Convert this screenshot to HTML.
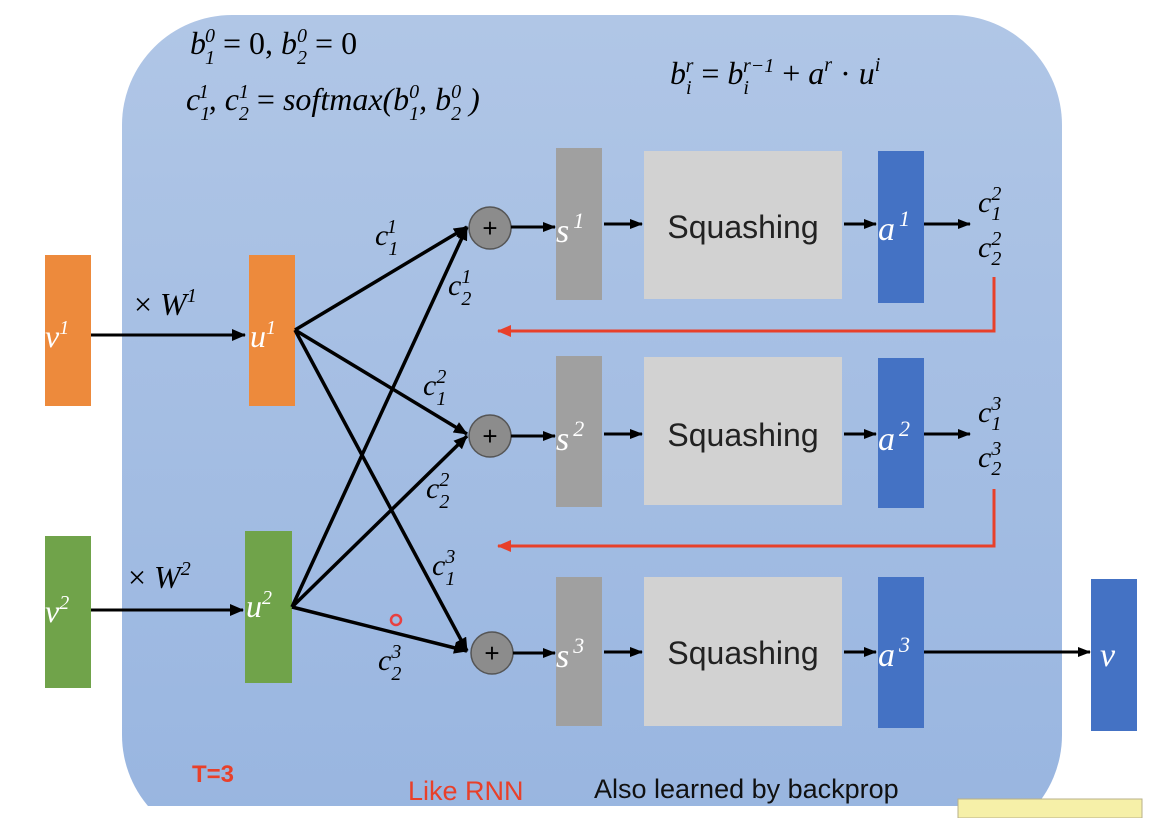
<!DOCTYPE html>
<html><head><meta charset="utf-8"><style>
html,body{margin:0;padding:0;background:#fff;width:1176px;height:818px;overflow:hidden;}
svg{display:block;}
.m{font-family:"Liberation Serif",serif;font-style:italic;}
.w{fill:#fff;}
</style></head><body>
<svg width="1176" height="818" viewBox="0 0 1176 818" xmlns="http://www.w3.org/2000/svg">
<defs>
<linearGradient id="bg" x1="0" y1="0" x2="0" y2="1">
<stop offset="0" stop-color="#b0c6e6"/><stop offset="1" stop-color="#98b5e0"/>
</linearGradient>
<marker id="ar" markerWidth="13" markerHeight="10" refX="12" refY="5" orient="auto" markerUnits="userSpaceOnUse"><path d="M0,0 L13,5 L0,10 z" fill="#000"/></marker>
<marker id="ar2" markerWidth="14" markerHeight="12" refX="13" refY="6" orient="auto" markerUnits="userSpaceOnUse"><path d="M0,0 L14,6 L0,12 z" fill="#000"/></marker>
<marker id="rr" markerWidth="14" markerHeight="12" refX="13" refY="6" orient="auto" markerUnits="userSpaceOnUse"><path d="M0,0 L14,6 L0,12 z" fill="#e8402a"/></marker>
</defs>
<rect x="122" y="15" width="940" height="830" rx="110" ry="110" fill="url(#bg)"/>
<rect x="0" y="806" width="1176" height="12" fill="#fff"/>
<rect x="958" y="799" width="184" height="19" fill="#f6f0a8" stroke="#b8b08a"/>

<!-- formulas -->
<text class="m" x="190" y="54" font-size="32">b<tspan font-size="20" dy="10" dx="-1">1</tspan><tspan font-size="20" dy="-22" dx="-10">0</tspan><tspan dy="12" font-style="normal"> = 0, </tspan>b<tspan font-size="20" dy="10">2</tspan><tspan font-size="20" dy="-22" dx="-10">0</tspan><tspan dy="12" font-style="normal"> = 0</tspan></text>
<text class="m" x="186" y="110" font-size="32">c<tspan font-size="20" dy="10">1</tspan><tspan font-size="20" dy="-22" dx="-10">1</tspan><tspan dy="12">, c</tspan><tspan font-size="20" dy="10">2</tspan><tspan font-size="20" dy="-22" dx="-10">1</tspan><tspan dy="12" font-style="normal"> = </tspan>softmax(b<tspan font-size="20" dy="10">1</tspan><tspan font-size="20" dy="-22" dx="-10">0</tspan><tspan dy="12">, b</tspan><tspan font-size="20" dy="10">2</tspan><tspan font-size="20" dy="-22" dx="-10">0</tspan><tspan dy="12"> )</tspan></text>
<text class="m" x="670" y="84" font-size="32">b<tspan font-size="20" dy="10">i</tspan><tspan font-size="20" dy="-22" dx="-6">r</tspan><tspan dy="12" font-style="normal"> = </tspan>b<tspan font-size="20" dy="10">i</tspan><tspan font-size="20" dy="-22" dx="-6">r−1</tspan><tspan dy="12" font-style="normal"> + </tspan>a<tspan font-size="20" dy="-13">r</tspan><tspan dy="13" font-style="normal"> · </tspan>u<tspan font-size="20" dy="-13">i</tspan></text>

<!-- left boxes -->
<rect x="45" y="255" width="46" height="151" fill="#ed8a3c"/>
<rect x="249" y="255" width="46" height="151" fill="#ed8a3c"/>
<rect x="45" y="536" width="46" height="152" fill="#70a34a"/>
<rect x="245" y="531" width="47" height="152" fill="#70a34a"/>
<text class="m w" x="45" y="347" font-size="32">v<tspan font-size="20" dy="-13">1</tspan></text>
<text class="m w" x="250" y="347" font-size="32">u<tspan font-size="20" dy="-13">1</tspan></text>
<text class="m w" x="45" y="622" font-size="32">v<tspan font-size="20" dy="-13">2</tspan></text>
<text class="m w" x="246" y="617" font-size="32">u<tspan font-size="20" dy="-13">2</tspan></text>
<line x1="91" y1="335" x2="245" y2="335" stroke="#000" stroke-width="3" marker-end="url(#ar2)"/>
<line x1="91" y1="610" x2="243" y2="610" stroke="#000" stroke-width="3" marker-end="url(#ar2)"/>
<text class="m" x="134" y="315" font-size="32"><tspan font-style="normal">× </tspan>W<tspan font-size="20" dy="-13">1</tspan></text>
<text class="m" x="128" y="588" font-size="32"><tspan font-style="normal">× </tspan>W<tspan font-size="20" dy="-13">2</tspan></text>

<!-- cross lines -->
<g stroke="#000" stroke-width="3.5" marker-end="url(#ar2)">
<line x1="295" y1="330" x2="467" y2="227"/>
<line x1="295" y1="330" x2="467" y2="434"/>
<line x1="295" y1="330" x2="467" y2="651"/>
<line x1="292" y1="607" x2="467" y2="227"/>
<line x1="292" y1="607" x2="467" y2="436"/>
<line x1="292" y1="607" x2="467" y2="651"/>
</g>
<text class="m" x="375" y="245" font-size="30">c<tspan font-size="20" dy="10">1</tspan><tspan font-size="20" dy="-22" dx="-10">1</tspan></text>
<text class="m" x="448" y="295" font-size="30">c<tspan font-size="20" dy="10">2</tspan><tspan font-size="20" dy="-22" dx="-10">1</tspan></text>
<text class="m" x="423" y="395" font-size="30">c<tspan font-size="20" dy="10">1</tspan><tspan font-size="20" dy="-22" dx="-10">2</tspan></text>
<text class="m" x="426" y="498" font-size="30">c<tspan font-size="20" dy="10">2</tspan><tspan font-size="20" dy="-22" dx="-10">2</tspan></text>
<text class="m" x="432" y="575" font-size="30">c<tspan font-size="20" dy="10">1</tspan><tspan font-size="20" dy="-22" dx="-10">3</tspan></text>
<text class="m" x="378" y="670" font-size="30">c<tspan font-size="20" dy="10">2</tspan><tspan font-size="20" dy="-22" dx="-10">3</tspan></text>
<circle cx="396" cy="620" r="5" fill="none" stroke="#e84040" stroke-width="2.5"/>

<!-- rows -->
<g font-family="Liberation Sans, sans-serif">
<circle cx="490" cy="228" r="21" fill="#8c8c8c" stroke="#555" stroke-width="1.5"/>
<circle cx="490" cy="436" r="21" fill="#8c8c8c" stroke="#555" stroke-width="1.5"/>
<circle cx="492" cy="653" r="21" fill="#8c8c8c" stroke="#555" stroke-width="1.5"/>
<text x="490" y="237" font-size="26" text-anchor="middle">+</text>
<text x="490" y="445" font-size="26" text-anchor="middle">+</text>
<text x="492" y="662" font-size="26" text-anchor="middle">+</text>
</g>
<rect x="556" y="148" width="46" height="152" fill="#a0a0a0"/>
<rect x="556" y="356" width="46" height="151" fill="#a0a0a0"/>
<rect x="556" y="577" width="46" height="149" fill="#a0a0a0"/>
<rect x="644" y="151" width="198" height="148" fill="#d2d2d2"/>
<rect x="644" y="357" width="198" height="148" fill="#d2d2d2"/>
<rect x="644" y="577" width="198" height="149" fill="#d2d2d2"/>
<rect x="878" y="151" width="46" height="152" fill="#4472c4"/>
<rect x="878" y="358" width="46" height="150" fill="#4472c4"/>
<rect x="878" y="577" width="46" height="151" fill="#4472c4"/>
<rect x="1091" y="579" width="46" height="152" fill="#4472c4"/>
<g font-family="Liberation Sans, sans-serif" font-size="32" fill="#222" text-anchor="middle">
<text x="743" y="238">Squashing</text>
<text x="743" y="446">Squashing</text>
<text x="743" y="664">Squashing</text>
</g>
<text class="m w" x="556" y="242" font-size="34">s<tspan font-size="22" dy="-14" dx="4">1</tspan></text>
<text class="m w" x="556" y="450" font-size="34">s<tspan font-size="22" dy="-14" dx="4">2</tspan></text>
<text class="m w" x="556" y="667" font-size="34">s<tspan font-size="22" dy="-14" dx="4">3</tspan></text>
<text class="m w" x="878" y="240" font-size="34">a<tspan font-size="22" dy="-14" dx="4">1</tspan></text>
<text class="m w" x="878" y="450" font-size="34">a<tspan font-size="22" dy="-14" dx="4">2</tspan></text>
<text class="m w" x="878" y="666" font-size="34">a<tspan font-size="22" dy="-14" dx="4">3</tspan></text>
<text class="m w" x="1100" y="666" font-size="34">v</text>
<g stroke="#000" stroke-width="3" marker-end="url(#ar)">
<line x1="511" y1="227" x2="555" y2="227"/>
<line x1="511" y1="436" x2="555" y2="436"/>
<line x1="513" y1="653" x2="555" y2="653"/>
<line x1="604" y1="224" x2="642" y2="224"/>
<line x1="604" y1="434" x2="642" y2="434"/>
<line x1="604" y1="652" x2="642" y2="652"/>
<line x1="844" y1="224" x2="876" y2="224"/>
<line x1="844" y1="434" x2="876" y2="434"/>
<line x1="844" y1="652" x2="876" y2="652"/>
<line x1="924" y1="224" x2="970" y2="224"/>
<line x1="924" y1="434" x2="970" y2="434"/>
<line x1="924" y1="652" x2="1090" y2="652"/>
</g>
<text class="m" x="978" y="212" font-size="30">c<tspan font-size="20" dy="8">1</tspan><tspan font-size="20" dy="-20" dx="-10">2</tspan></text>
<text class="m" x="978" y="257" font-size="30">c<tspan font-size="20" dy="8">2</tspan><tspan font-size="20" dy="-20" dx="-10">2</tspan></text>
<text class="m" x="978" y="422" font-size="30">c<tspan font-size="20" dy="8">1</tspan><tspan font-size="20" dy="-20" dx="-10">3</tspan></text>
<text class="m" x="978" y="467" font-size="30">c<tspan font-size="20" dy="8">2</tspan><tspan font-size="20" dy="-20" dx="-10">3</tspan></text>
<polyline points="994,277 994,331 498,331" fill="none" stroke="#e8402a" stroke-width="3" marker-end="url(#rr)"/>
<polyline points="994,489 994,546 498,546" fill="none" stroke="#e8402a" stroke-width="3" marker-end="url(#rr)"/>

<text x="192" y="782" font-family="Liberation Sans, sans-serif" font-size="24" font-weight="bold" fill="#e8402a">T=3</text>
<text x="408" y="800" font-family="Liberation Sans, sans-serif" font-size="27" fill="#e8402a">Like RNN</text>
<text x="594" y="798" font-family="Liberation Sans, sans-serif" font-size="27" fill="#111">Also learned by backprop</text>
</svg>
</body></html>
